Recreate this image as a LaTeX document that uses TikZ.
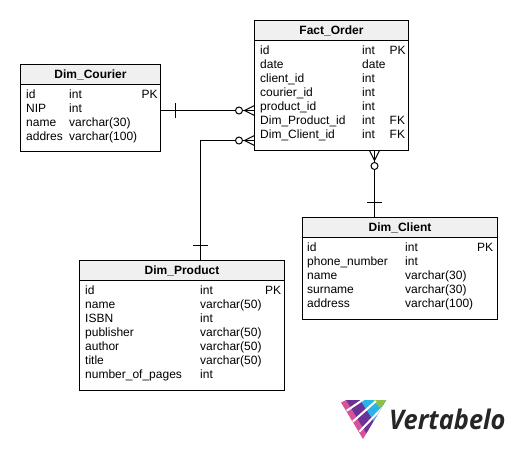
\documentclass[tikz,border=0pt]{standalone}
\usepackage{fontspec}
\setmainfont{Liberation Sans}
\newfontfamily\logofont{Open Sans}
\usepackage{xcolor}
\usetikzlibrary{positioning,calc}
\definecolor{HeadGray}{HTML}{F0F0F0}
\definecolor{LogoPink}{HTML}{D6529B}
\definecolor{LogoPurple}{HTML}{6A3396}
\definecolor{LogoBlue}{HTML}{27B5E8}
\definecolor{LogoGreen}{HTML}{8CC04B}
\definecolor{LogoDark}{HTML}{262626}
\tikzset{
  tablebox/.style={draw=black,line width=1pt,outer sep=0pt,fill=white,anchor=north west,inner sep=0pt},
  tablehead/.style={draw=black,line width=1pt,outer sep=0pt,fill=HeadGray,anchor=north west,inner sep=0pt,font=\bfseries\fontsize{12}{14}\selectfont},
  rowtext/.style={anchor=north west,align=left,inner sep=0pt,font=\fontsize{12}{14}\selectfont},
  reflink/.style={line width=1pt,draw=black},
  crowfoot/.pic={
    \draw[line width=1pt,fill=white] (-15.5,0) circle (3.5);
    \draw[line width=1pt] (0,-5)--(-10,0)--(0,5);
  },
  onetick/.pic={
    \draw[line width=1pt] (0,-7.5)--(0,7.5);
  }
}
\begin{document}
\begin{tikzpicture}[x=1pt,y=-1pt]
\useasboundingbox (0,0) rectangle (516,450);
% Dim_Courier
\node[tablebox,minimum width=140pt,minimum height=87pt] (courier) at (20.5,64.5) {};
\node[tablehead,minimum width=140pt,minimum height=20pt] (courierhead) at (20.5,64.5) {Dim\_Courier};
\node[rowtext] (couriernames) at (26,88.5) {\strut id\\NIP\\name\\addres};
\node[rowtext] (couriertypes) at (69,88.5) {\strut int\\int\\varchar(30)\\varchar(100)};
\node[rowtext] (courierkeys) at (141.5,88.5) {\strut PK};
% Fact_Order
\node[tablebox,minimum width=154pt,minimum height=130pt] (fact) at (254.5,20.5) {};
\node[tablehead,minimum width=154pt,minimum height=20pt] (facthead) at (254.5,20.5) {Fact\_Order};
\node[rowtext] (factnames) at (260,44.5) {\strut id\\date\\client\_id\\courier\_id\\product\_id\\Dim\_Product\_id\\Dim\_Client\_id};
\node[rowtext] (facttypes) at (362,44.5) {\strut int\\date\\int\\int\\int\\int\\int};
\node[rowtext] (factkeys) at (389.5,44.5) {\strut PK\\\strut\\\strut\\\strut\\\strut\\FK\\FK};
% Dim_Client
\node[tablebox,minimum width=195pt,minimum height=102pt] (client) at (302.5,217.5) {};
\node[tablehead,minimum width=195pt,minimum height=20pt] (clienthead) at (302.5,217.5) {Dim\_Client};
\node[rowtext] (clientnames) at (307,241.5) {\strut id\\phone\_number\\name\\surname\\address};
\node[rowtext] (clienttypes) at (405,241.5) {\strut int\\int\\varchar(30)\\varchar(30)\\varchar(100)};
\node[rowtext] (clientkeys) at (477,241.5) {\strut PK};
% Dim_Product
\node[tablebox,minimum width=205pt,minimum height=130pt] (product) at (79.5,260.5) {};
\node[tablehead,minimum width=205pt,minimum height=20pt] (producthead) at (79.5,260.5) {Dim\_Product};
\node[rowtext] (productnames) at (85,284.5) {\strut id\\name\\ISBN\\publisher\\author\\title\\number\_of\_pages};
\node[rowtext] (producttypes) at (200,284.5) {\strut int\\varchar(50)\\int\\varchar(50)\\varchar(50)\\varchar(50)\\int};
\node[rowtext] (productkeys) at (265,284.5) {\strut PK};
% connectors
\coordinate (courierend) at (fact.west |- 0,110.5);
\coordinate (productend) at (fact.west |- 0,140.5);
\coordinate (productbend) at (200.5,140.5);
\coordinate (clientend) at (374.5,150.5);
\draw[reflink] (courier.east |- courierend)--(courierend);
\draw[reflink] (product.north -| productbend)--(productbend)--(productend);
\draw[reflink] (client.north -| clientend)--(clientend);
\pic at (courierend) {crowfoot};
\pic at (productend) {crowfoot};
\pic[rotate=90] at (clientend) {crowfoot};
\pic at ($(courier.east |- courierend)+(15,0)$) {onetick};
\pic[rotate=90] at (200.5,245.5) {onetick};
\pic[rotate=90] at (374.5,202.5) {onetick};
% logo
\begin{scope}
\clip (341,402.5)--(346,400)--(386,400)--(363,439)--cycle;
\fill[LogoPink] (338,398) rectangle (390,441);
\fill[LogoPurple] (345,398)--(368,436)--(390,441)--(390,398)--cycle;
\fill[LogoBlue] (359,398)--(378,428)--(390,420)--(390,398)--cycle;
\fill[LogoGreen] (371,398)--(382,410)--(390,405)--(390,398)--cycle;
\draw[white,line width=2pt] (346.7,410.7)--(364,399);
\draw[white,line width=2pt] (352.7,421.7)--(376,401);
\draw[white,line width=2pt] (359.3,431.7)--(386,404);
\end{scope}
\node[font=\logofont\bfseries\itshape\fontsize{27}{27}\selectfont,text=LogoDark,anchor=base west,inner sep=0pt,xscale=0.94] (logotext) at (389,429) {Vertabelo};
\end{tikzpicture}
\end{document}
